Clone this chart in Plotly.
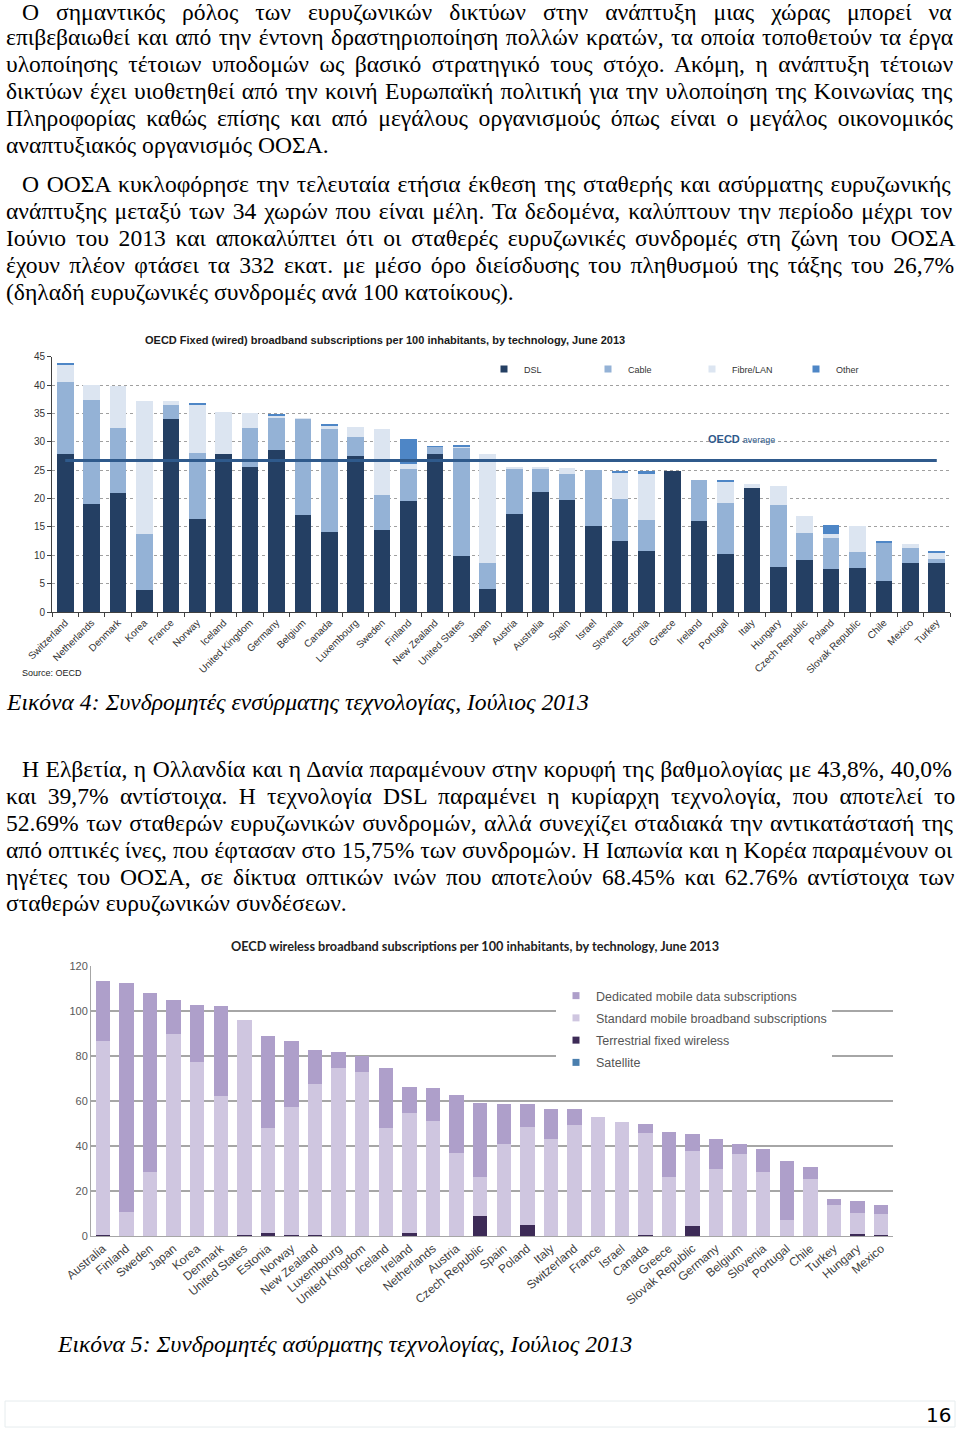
import plotly.graph_objects as go

# ---------------- Chart 1 data: fixed (wired) broadband ----------------
countries_fixed = ["Switzerland", "Netherlands", "Denmark", "Korea", "France", "Norway", "Iceland",
                   "United Kingdom", "Germany", "Belgium", "Canada", "Luxembourg", "Sweden", "Finland",
                   "New Zealand", "United States", "Japan", "Austria", "Australia", "Spain", "Israel",
                   "Slovenia", "Estonia", "Greece", "Ireland", "Portugal", "Italy", "Hungary",
                   "Czech Republic", "Poland", "Slovak Republic", "Chile", "Mexico", "Turkey"]
dsl = [27.8, 19.1, 20.9, 3.8, 34.1, 16.4, 27.8, 25.6, 28.5, 17.1, 14.1, 27.5, 14.5, 19.5, 27.8, 9.9, 4.0,
       17.2, 21.1, 19.8, 15.2, 12.6, 10.7, 24.9, 16.1, 10.2, 21.9, 7.9, 9.1, 7.6, 7.8, 5.5, 8.6, 8.7]
cable = [12.8, 18.3, 11.6, 10.0, 2.4, 11.6, 0.0, 6.9, 5.9, 17.0, 18.1, 3.4, 6.1, 5.7, 1.4, 19.0, 4.7,
         8.0, 4.1, 4.6, 9.9, 7.4, 5.5, 0.0, 7.1, 9.1, 0.0, 11.0, 4.8, 5.5, 2.7, 6.7, 2.7, 0.7]
fibre = [3.0, 2.6, 7.4, 23.4, 0.7, 8.7, 7.4, 2.5, 0.2, 0.1, 0.7, 1.7, 11.7, 0.8, 0.0, 0.4, 19.1,
         0.4, 0.4, 1.0, 0.0, 4.7, 8.2, 0.0, 0.0, 3.8, 0.6, 3.3, 3.0, 0.6, 4.7, 0.0, 0.6, 1.2]
other = [0.3, 0.0, 0.0, 0.0, 0.0, 0.2, 0.0, 0.0, 0.2, 0.0, 0.2, 0.0, 0.0, 4.5, 0.1, 0.1, 0.0,
         0.0, 0.0, 0.0, 0.0, 0.2, 0.5, 0.0, 0.0, 0.1, 0.0, 0.0, 0.0, 1.7, 0.0, 0.4, 0.0, 0.1]
OECD_AVG = 26.7
fixed_series = ["DSL", "Cable", "Fibre/LAN", "Other"]
y1_ticks = [0, 5, 10, 15, 20, 25, 30, 35, 40, 45]

# ---------------- Chart 2 data: wireless broadband ----------------
countries_wireless = ["Australia", "Finland", "Sweden", "Japan", "Korea", "Denmark", "United States",
                      "Estonia", "Norway", "New Zealand", "Luxembourg", "United Kingdom", "Iceland",
                      "Ireland", "Netherlands", "Austria", "Czech Republic", "Spain", "Poland", "Italy",
                      "Switzerland", "France", "Israel", "Canada", "Greece", "Slovak Republic", "Germany",
                      "Belgium", "Slovenia", "Portugal", "Chile", "Turkey", "Hungary", "Mexico"]
satellite = [0.0] * 34
terrestrial = [0.5, 0, 0, 0, 0, 0, 0.5, 1.2, 0.5, 0.5, 0, 0, 0, 1.2, 0, 0, 9.0, 0, 4.9, 0,
               0, 0, 0, 0.5, 0, 4.6, 0, 0, 0, 0, 0, 0, 0.7, 0.3]
standard = [86.3, 10.8, 28.6, 89.8, 77.2, 62.4, 95.5, 46.9, 57.0, 67.2, 74.8, 72.9, 48.1, 53.6, 51.3,
            36.9, 17.1, 40.9, 43.7, 43.0, 49.3, 52.7, 50.8, 45.4, 26.1, 33.2, 29.8, 36.3, 28.3, 7.1,
            25.2, 13.6, 9.4, 9.5]
dedicated = [26.7, 101.5, 79.3, 15.2, 25.6, 40.0, 0.0, 40.8, 29.2, 14.8, 7.1, 7.0, 26.4, 11.4, 14.5,
             25.8, 33.0, 17.8, 10.1, 13.4, 7.1, 0.0, 0.0, 3.9, 20.0, 7.4, 13.2, 4.4, 10.2, 26.4,
             5.3, 3.0, 5.6, 3.8]
wireless_series = ["Satellite", "Terrestrial fixed wireless", "Standard mobile broadband subscriptions",
                   "Dedicated mobile data subscriptions"]
y2_ticks = [0, 20, 40, 60, 80, 100, 120]

# ---------------- Page text ----------------
para1 = [
    "Ο σημαντικός ρόλος των ευρυζωνικών δικτύων στην ανάπτυξη μιας χώρας μπορεί να",
    "επιβεβαιωθεί και από την έντονη δραστηριοποίηση πολλών κρατών, τα οποία τοποθετούν τα έργα",
    "υλοποίησης τέτοιων υποδομών ως βασικό στρατηγικό τους στόχο. Ακόμη, η ανάπτυξη τέτοιων",
    "δικτύων έχει υιοθετηθεί από την κοινή Ευρωπαϊκή πολιτική για την υλοποίηση της Κοινωνίας της",
    "Πληροφορίας καθώς επίσης και από μεγάλους οργανισμούς όπως είναι ο μεγάλος οικονομικός",
    "αναπτυξιακός οργανισμός ΟΟΣΑ.",
]
para2 = [
    "Ο ΟΟΣΑ κυκλοφόρησε την τελευταία ετήσια έκθεση της σταθερής και ασύρματης ευρυζωνικής",
    "ανάπτυξης μεταξύ των 34 χωρών που είναι μέλη. Τα δεδομένα, καλύπτουν την περίοδο μέχρι τον",
    "Ιούνιο του 2013 και αποκαλύπτει ότι οι σταθερές ευρυζωνικές συνδρομές στη ζώνη του ΟΟΣΑ",
    "έχουν πλέον φτάσει τα 332 εκατ. με μέσο όρο διείσδυσης του πληθυσμού της τάξης του 26,7%",
    "(δηλαδή ευρυζωνικές συνδρομές ανά 100 κατοίκους).",
]
para3 = [
    "Η Ελβετία, η Ολλανδία και η Δανία παραμένουν στην κορυφή της βαθμολογίας με 43,8%, 40,0%",
    "και 39,7% αντίστοιχα. Η τεχνολογία DSL παραμένει η κυρίαρχη τεχνολογία, που αποτελεί το",
    "52.69% των σταθερών ευρυζωνικών συνδρομών, αλλά συνεχίζει σταδιακά την αντικατάστασή της",
    "από οπτικές ίνες, που έφτασαν στο 15,75% των συνδρομών. Η Ιαπωνία και η Κορέα παραμένουν οι",
    "ηγέτες του ΟΟΣΑ, σε δίκτυα οπτικών ινών που αποτελούν 68.45% και 62.76% αντίστοιχα των",
    "σταθερών ευρυζωνικών συνδέσεων.",
]
# extra justification width (px) per line, 0 for last (unjustified) lines
para1_extra = [122, 19, 50, 19, 53, 0]
para2_extra = [20, 28, 50, 51, 0]
para3_extra = [8, 65, 15, 2, 51, 0]
caption4 = "Εικόνα 4: Συνδρομητές ενσύρματης τεχνολογίας, Ιούλιος 2013"
caption5 = "Εικόνα 5: Συνδρομητές ασύρματης τεχνολογίας, Ιούλιος 2013"
title1 = "OECD Fixed (wired) broadband subscriptions per 100 inhabitants, by technology, June 2013"
title2 = "OECD wireless broadband subscriptions per 100 inhabitants, by technology, June 2013"

# ---------------- Figure ----------------
W, H = 960, 1432
SERIF = "Liberation Serif"
SANS = "Liberation Sans"
BODY_SIZE = 23.6


def px(x):
    return x / W


def py(y):
    return 1 - y / H


fixed_colors = ["#243f63", "#94b2d6", "#dce5f1", "#4e86c6"]
wireless_colors = ["#4a7fae", "#3d2b57", "#cfc6e0", "#ae9fca"]

fig = go.Figure()
for name, vals, col in zip(fixed_series, [dsl, cable, fibre, other], fixed_colors):
    fig.add_trace(go.Bar(x=countries_fixed, y=vals, name=name, width=0.63,
                         marker=dict(color=col, line=dict(width=0)), showlegend=False,
                         xaxis="x", yaxis="y"))
    fig.add_trace(go.Scatter(x=[None], y=[None], mode="markers", name=name,
                             marker=dict(symbol="square", size=7, color=col),
                             xaxis="x", yaxis="y", legend="legend"))
fig.add_trace(go.Scatter(x=countries_fixed, y=[OECD_AVG] * len(countries_fixed), mode="lines",
                         line=dict(color="#2f5a8c", width=3), showlegend=False,
                         xaxis="x", yaxis="y", name="OECD average"))

for name, vals, col in zip(wireless_series, [satellite, terrestrial, standard, dedicated], wireless_colors):
    fig.add_trace(go.Bar(x=countries_wireless, y=vals, name=name, width=0.61,
                         marker=dict(color=col, line=dict(width=0)), showlegend=False,
                         xaxis="x2", yaxis="y2"))
for name, col in zip(wireless_series[::-1], wireless_colors[::-1]):
    fig.add_trace(go.Scatter(x=[None], y=[None], mode="markers", name=name, legendgroup=name,
                             marker=dict(symbol="square", size=7, color=col),
                             xaxis="x2", yaxis="y2", legend="legend2"))

annotations = []


def text(x, y, s, size=BODY_SIZE, family=SERIF, color="#000", xanchor="left", italic=False,
         bold=False, extra=0):
    if extra and s.count(" "):
        s = "<span style='word-spacing:%.2fpx'>%s</span>" % (extra / s.count(" "), s)
    if bold:
        s = "<b>" + s + "</b>"
    if italic:
        s = "<i>" + s + "</i>"
    annotations.append(dict(x=px(x), y=py(y), xref="paper", yref="paper", text=s, showarrow=False,
                            xanchor=xanchor, yanchor="middle",
                            font=dict(size=size, family=family, color=color)))


for start, lines, extras in [(10, para1, para1_extra), (184, para2, para2_extra),
                             (769, para3, para3_extra)]:
    for i, (line, ex) in enumerate(zip(lines, extras)):
        yy = start + 27 * i
        if start == 10 and i == 0:
            yy = 13
        text(20 if i == 0 else 4, yy, line, extra=ex)
text(4, 702, caption4, italic=True)
text(55, 1344, caption5, italic=True)
text(953, 1415, "16", size=20, family="DejaVu Sans", xanchor="right")

# chart titles / notes
text(385, 340, title1, size=11, family=SANS, bold=True, color="#1a1a1a", xanchor="center")
text(20, 673, "Source: OECD", size=9, family=SANS, color="#222")
text(475, 946, title2, size=12.7, family="Lato", bold=True, color="#222", xanchor="center")
annotations.append(dict(x=25.6, y=30.5, xref="x", yref="y", showarrow=False,
                        text="<b>OECD</b> <span style='font-size:9px'>average</span>",
                        font=dict(size=11, family=SANS, color="#2f5a8c")))

shapes = [dict(type="rect", xref="paper", yref="paper", x0=px(5), x1=px(955), y0=py(1427), y1=py(1401),
               line=dict(color="#e6ecee", width=1))]

fig.update_layout(
    width=W, height=H, autosize=False,
    margin=dict(l=0, r=0, t=0, b=0, pad=0, autoexpand=False),
    paper_bgcolor="white", plot_bgcolor="white",
    barmode="stack",
    font=dict(family=SANS, color="#333"),
    annotations=annotations, shapes=shapes,
    xaxis=dict(domain=[px(52), px(950)], anchor="y", type="category", tickangle=-45,
               tickfont=dict(size=10, color="#333"), showline=True, linecolor="#404040",
               ticks="outside", tickson="boundaries", ticklen=4, tickcolor="#404040",
               showgrid=False, automargin=False),
    yaxis=dict(domain=[py(612), py(356.7)], anchor="x", range=[0, 45], tickvals=y1_ticks,
               showgrid=True, gridcolor="#a0a0a0", griddash="dot", gridwidth=1,
               showline=True, linecolor="#404040", ticks="outside", ticklen=4, tickcolor="#404040",
               tickfont=dict(size=10, color="#333"), zeroline=False, automargin=False),
    xaxis2=dict(domain=[px(91), px(893)], anchor="y2", type="category", tickangle=-40,
                tickfont=dict(size=12, color="#404040"), showline=True, linecolor="#a6a6a6",
                ticks="", showgrid=False, automargin=False),
    yaxis2=dict(domain=[py(1236), py(966)], anchor="x2", range=[0, 120], tickvals=y2_ticks,
                showgrid=True, gridcolor="#a6a6a6", gridwidth=1.5, showline=True,
                linecolor="#a6a6a6", tickfont=dict(size=11, color="#595959"), zeroline=False,
                automargin=False),
    legend=dict(orientation="h", x=px(484), y=py(369), xanchor="left", yanchor="middle",
                font=dict(size=9, color="#333"), bgcolor="rgba(0,0,0,0)", traceorder="normal",
                entrywidth=59),
    legend2=dict(x=px(556), y=py(981), xanchor="left", yanchor="top", bgcolor="white",
                 font=dict(size=12.5, color="#555"), traceorder="grouped", tracegroupgap=3),
)

fig.write_html("out.html", config={"displayModeBar": False},
               post_script="document.body.style.margin='0px';")
